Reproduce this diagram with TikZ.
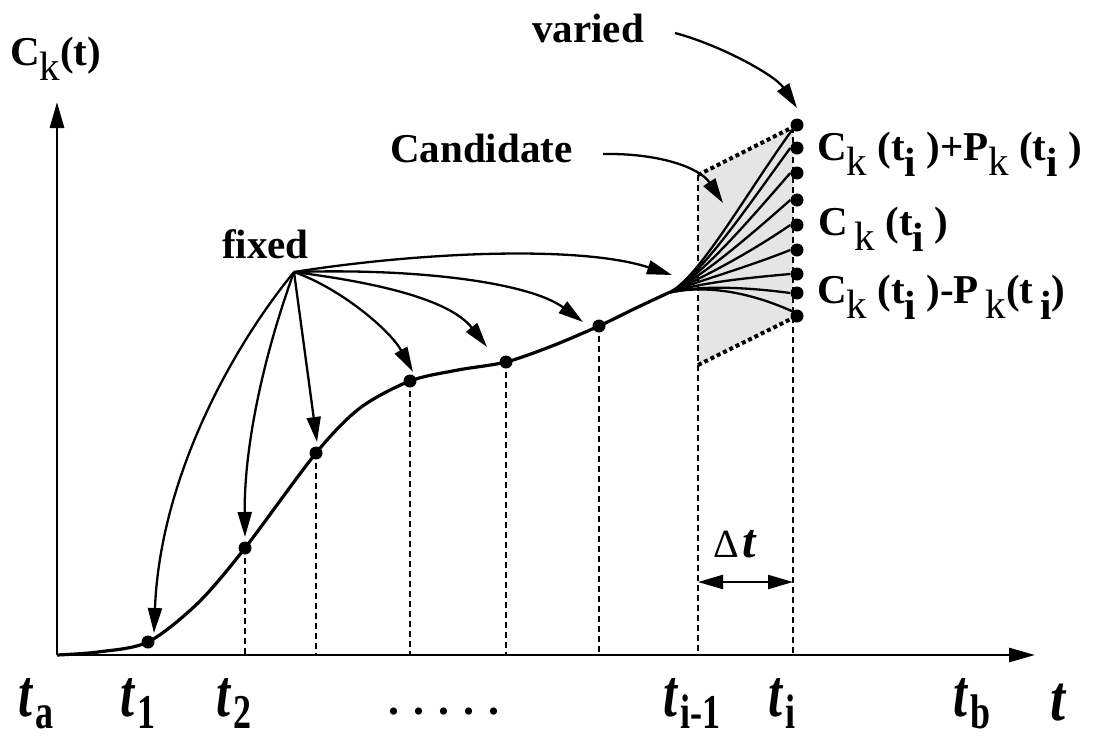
\documentclass[tikz,border=0pt]{standalone}
\usepackage{fontspec}
\setmainfont{Liberation Serif}
\usetikzlibrary{arrows.meta}
\newcommand\dk{\raisebox{-15pt}{\mdseries k}}
\newcommand\di{\raisebox{-16pt}{i}}
\newcommand\tlab[1]{\scalebox{1}[1.35]{\fontsize{50}{50}\selectfont\bfseries\itshape t\hspace{3pt}\raisebox{-9pt}{\fontsize{36}{36}\selectfont\upshape #1}}}
\tikzset{
  big/.style={font=\fontsize{41}{41}\selectfont\bfseries, inner sep=0pt, anchor=base west},
  bot/.style={inner sep=0pt, anchor=base west},
  ar/.style={line width=2.3pt, -{Triangle[length=25pt,width=14pt]}},
  axis/.style={line width=2.8pt, -{Triangle[length=26pt,width=14pt]}},
  dsh/.style={line width=2.3pt, dash pattern=on 6pt off 4pt},
  dtt/.style={line width=4pt, dash pattern=on 4pt off 3pt},
  blob/.style={circle, fill=black, inner sep=0pt, minimum size=13pt},
  fan/.style={line width=2.3pt},
}
\begin{document}
\begin{tikzpicture}[x=1pt,y=-1pt]
\useasboundingbox (0,0) rectangle (1096,740);
% key coordinates
\coordinate (O) at (57,655);
\coordinate (xe) at (1035,655);
\coordinate (ye) at (57,102);
\coordinate (fo) at (668,293);
\coordinate (sTL) at (698,175);
\coordinate (sTR) at (793,127);
\coordinate (sBR) at (793,318);
\coordinate (sBL) at (698,365);
% shaded candidate region
\fill[black!10] (sTL) -- (sTR) -- (sBR) -- (sBL) -- cycle;
\draw[dtt] (sTL) -- (sTR);
\draw[dtt] (sBL) -- (sBR);
\draw[dsh] (sTL) -- (sTL |- O);
\draw[dsh] (sTR) -- (sTR |- O);
% curve points
\coordinate (c1) at (148,642);
\coordinate (c2) at (245,548);
\coordinate (c3) at (316,453);
\coordinate (c4) at (410,381);
\coordinate (c5) at (506,362);
\coordinate (c6) at (599,326);
% dashed drops
\draw[dsh] (c2) -- (c2 |- O);
\draw[dsh] (c3) -- (c3 |- O);
\draw[dsh] (c4) -- (c4 |- O);
\draw[dsh] (c5) -- (c5 |- O);
\draw[dsh] (c6) -- (c6 |- O);
% axes
\draw[axis] (O) -- (xe);
\draw[axis] (O) -- (ye);
% main curve
\draw[line width=3.2pt] plot[smooth, tension=0.5] coordinates {(57,655) (98,652) (c1) (198,603) (c2) (c3) (360,408) (c4) (458,370) (c5) (552,346) (c6) (636,308) (fo)};
% end dots
\node[blob] (v1) at (797,125) {};
\node[blob] (v2) at (797,148) {};
\node[blob] (v3) at (797,173) {};
\node[blob] (v4) at (797,200) {};
\node[blob] (v5) at (797,225) {};
\node[blob] (v6) at (797,250) {};
\node[blob] (v7) at (797,274) {};
\node[blob] (v8) at (797,293) {};
\node[blob] (v9) at (797,316) {};
% fan of candidate curves
\draw[fan] (fo) .. controls (698,280) and (745,195) .. (v1.south west);
\draw[fan] (fo) .. controls (698,280) and (745,210) .. (v2.west);
\draw[fan] (fo) .. controls (698,280) and (745,225) .. (v3.west);
\draw[fan] (fo) .. controls (698,280) and (745,240) .. (v4.west);
\draw[fan] (fo) .. controls (698,280) and (745,256) .. (v5.west);
\draw[fan] (fo) .. controls (698,281) and (745,268) .. (v6.west);
\draw[fan] (fo) .. controls (698,283) and (745,278) .. (v7.west);
\draw[fan] (fo) .. controls (698,285) and (745,287) .. (v8.west);
\draw[fan] (fo) .. controls (698,286) and (740,288) .. (v9.north west);
% curve dots
\node[blob] (d1) at (c1) {};
\node[blob] (d2) at (c2) {};
\node[blob] (d3) at (c3) {};
\node[blob] (d4) at (c4) {};
\node[blob] (d5) at (c5) {};
\node[blob] (d6) at (c6) {};
% labels
\node[big] (fixed) at (222,258) {fixed};
\node[big] (cand) at (390,162) {Candidate};
\node[big] (var) at (532,42) {varied};
\node[big] (cy) at (10,65) {C\dk(t)};
\node[big] (lp) at (817,160) {C\dk\ (t\di\ )+P\dk\ (t\di\ )};
\node[big] (lc) at (818,235) {C\,\dk\ (t\di\ )};
\node[big] (lm) at (817,303) {C\dk\ (t\di\ )-P\,\dk(t\,\di)};
% arrows from fixed
\coordinate (fx) at (294,272);
\coordinate (a1) at (154,633);
\coordinate (a2) at (245,537);
\coordinate (a3) at (317,442);
\coordinate (a4) at (413,372);
\coordinate (a5) at (487,347);
\coordinate (a6) at (583,322);
\coordinate (a7) at (672,275);
\draw[ar] (fx) .. controls (230,350) and (160,480) .. (a1);
\draw[ar] (fx) .. controls (262,360) and (244,450) .. (a2);
\draw[ar] (fx) -- (a3);
\draw[ar] (fx) .. controls (340,288) and (390,330) .. (a4);
\draw[ar] (fx) .. controls (380,283) and (450,300) .. (a5);
\draw[ar] (fx) .. controls (420,268) and (530,283) .. (a6);
\draw[ar] (fx) .. controls (420,252) and (580,245) .. (a7);
% candidate and varied arrows
\coordinate (cs) at (603,154);
\coordinate (ct) at (723,203);
\draw[ar] (cs) .. controls (660,153) and (700,168) .. (ct);
\coordinate (vs) at (675,33);
\coordinate (vt) at (797,108);
\draw[ar] (vs) .. controls (720,45) and (775,75) .. (vt);
% delta t
\coordinate (dl) at (698,582);
\coordinate (dr) at (793,582);
\draw[line width=2.3pt, {Triangle[length=25pt,width=14pt]}-{Triangle[length=25pt,width=14pt]}] (dl) -- (dr);
\node[bot] (dt) at (713,557) {{\fontsize{40}{40}\selectfont Δ}\hspace{4pt}{\fontsize{48}{48}\selectfont\bfseries\itshape t}};
% axis labels
\node[bot] (tax) at (1050,720) {\scalebox{1}[1.2]{\fontsize{54}{54}\selectfont\bfseries\itshape t}};
\node[bot] (ta) at (18,716) {\tlab{a}};
\node[bot] (t1) at (120,716) {\tlab{1}};
\node[bot] (t2) at (216,716) {\tlab{2}};
\node[bot] (tdots) at (388,714) {\fontsize{44}{44}\selectfont\bfseries .\hspace{14pt}.\hspace{14pt}.\hspace{14pt}.\hspace{14pt}.};
\node[bot] (tim) at (663,716) {\tlab{i-1}};
\node[bot] (ti) at (768,716) {\tlab{i}};
\node[bot] (tb) at (953,716) {\tlab{b}};
\end{tikzpicture}
\end{document}
